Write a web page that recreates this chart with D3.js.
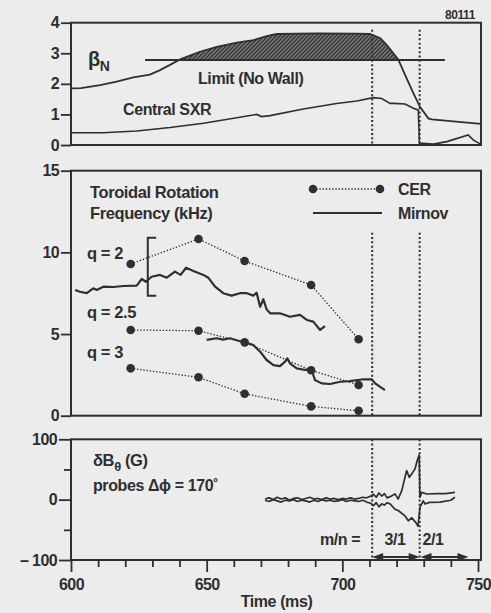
<!DOCTYPE html>
<html>
<head>
<meta charset="utf-8">
<script src="https://cdn.jsdelivr.net/npm/d3@7"></script>
<style>
  html, body { margin: 0; padding: 0; background: #ececec; }
  svg { display: block; font-family: "Liberation Sans", Arial, Helvetica, sans-serif; font-weight: 700; }
</style>
</head>
<body>
<svg id="chart" width="491" height="613"></svg>
<script>
// ---- Shot 80111: beta_N, central SXR ----
const betaNTime = [600, 603.7, 610.7, 616.8, 623, 629.1, 632.8, 636.5, 640.2, 647.5, 653.7, 661.1, 667.2, 672.1, 675.8, 690.6, 705, 710.2, 714, 716.4, 718.8, 720.6, 723.7, 726, 728.6, 731.7, 732.9, 751];
const betaN     = [1.85, 1.86, 1.96, 2.07, 2.21, 2.30, 2.45, 2.62, 2.80, 3.05, 3.21, 3.35, 3.43, 3.56, 3.63, 3.65, 3.64, 3.63, 3.49, 3.27, 3.00, 2.80, 2.18, 1.73, 1.25, 0.87, 0.84, 0.69];
const betaLimit = 2.78;
const limitSpan = [627.3, 737.8];

const sxrTime = [600, 602.1, 611.9, 624.2, 636.5, 648.8, 661.1, 668.4, 670.3, 673.4, 685.6, 697.9, 705.3, 711.4, 714.5, 717.6, 718.8, 723.1, 726.2, 728, 728.4, 733.5, 738.5, 746.4, 748.3, 751];
const sxr     = [0.40, 0.40, 0.40, 0.46, 0.57, 0.71, 0.89, 1.00, 0.93, 0.96, 1.18, 1.36, 1.44, 1.55, 1.52, 1.36, 1.36, 1.34, 1.20, 1.14, 0.06, 0.03, 0.11, 0.33, 0.16, 0.03];

// ---- Toroidal rotation (kHz) ----
const cerTime = [622, 647, 664, 688.5, 706];
const cerQ2   = [9.29, 10.82, 9.47, 8.00, 4.68];
const cerQ25  = [5.25, 5.20, 4.49, 2.78, 1.88];
const cerQ3   = [2.90, 2.35, 1.34, 0.57, 0.30];

const mirnovATime = [601.5, 603.3, 605.8, 608.2, 609.5, 611.9, 615.6, 619.3, 624.2, 626.1, 627.6, 629.7, 632.8, 635.3, 638.3, 640.4, 642.4, 645.1, 648.8, 650.6, 653.1, 656.1, 659.2, 662.3, 664.8, 667.2, 668.4, 669.7, 670.9, 672.1, 673.4, 677, 680.7, 684.4, 686.9, 689.3, 691.8, 693.6];
const mirnovA     = [7.70, 7.59, 7.50, 7.80, 7.70, 7.90, 7.88, 7.94, 7.96, 8.37, 8.20, 8.51, 8.62, 8.45, 8.82, 8.62, 9.06, 8.86, 8.62, 8.45, 7.90, 7.50, 7.35, 7.50, 7.50, 7.35, 7.53, 6.67, 7.13, 6.51, 6.27, 6.27, 6.06, 6.17, 5.86, 5.76, 5.25, 5.49];

const mirnovBTime = [650, 653.7, 656, 658.6, 661, 664.1, 667.2, 669.7, 672.1, 674.6, 677, 678.9, 679.7, 680.7, 683.2, 686.3, 688.7, 689.9, 692.4, 695.5, 699.2, 702.8, 707.7, 710.8, 712.1, 715.7];
const mirnovB     = [4.64, 4.74, 4.66, 4.74, 4.62, 4.49, 4.33, 3.92, 3.41, 3.10, 3.04, 3.31, 3.51, 3.21, 2.90, 2.80, 2.80, 2.19, 1.98, 1.94, 2.08, 2.12, 2.23, 2.23, 1.98, 1.57];

// q = 2 bracket (time, kHz)
const bracketTime = [628.3, 631.4];
const bracketSpan = [7.35, 10.9];

// ---- delta B_theta (G), two probes ----
const probeATime = [671.5, 673, 674.5, 676, 677.5, 679, 680.5, 682, 683.5, 685, 686.5, 688, 689.5, 691, 692.5, 694, 695.5, 697, 698.5, 700, 701.5, 703, 704.5, 706, 707.5, 709, 710.5, 711.5, 712.5, 713.5, 714.5, 715.5, 716.5, 717.6, 719.4, 720.6, 721.9, 723.1, 723.7, 724.7, 725.6, 726.8, 727.6, 728.3, 728.6, 729.3, 731.1, 734.8, 738, 741.5];
const probeA     = [1, 3, 0, 4, 1, 3, -1, 2, 3, 0, 2, 4, 1, 2, 0, 3, 1, 2, 0, 2, 1, 3, 1, 2, 4, 3, 6, 9, 4, 11, 6, 10, 3, 5, 9.5, 1, 15, 37, 48, 37, 43, 51, 65, 74, 4, 12, 9.4, 10, 10, 12];
const probeBTime = [671.5, 673, 674.5, 676, 677.5, 679, 680.5, 682, 683.5, 685, 686.5, 688, 689.5, 691, 692.5, 694, 695.5, 697, 698.5, 700, 701.5, 703, 704.5, 706, 707.5, 709, 710.5, 711.5, 712.5, 713.5, 714.5, 715.5, 716.5, 717.6, 719.4, 720.6, 723.1, 724.3, 725.6, 727.1, 727.9, 728.6, 729.8, 730.4, 732.2, 736, 740, 741.5];
const probeB     = [-1, -3, 0, -2, -4, -1, -2, 0, -3, -1, -2, -4, -1, -3, 0, -2, -1, -3, -2, 0, -3, -1, -2, -3, -1, -4, -6, -10, -5, -12, -7, -9, -5, -7, -16, -18, -27, -35, -30, -38, -44, -13, -2, -7, -4.5, -4, -1, 4];

// mode windows (m/n) and event times
const modeWindows = [[711, 728.5, "3/1"], [728.8, 746.5, "2/1"]];
const eventTimes = [711, 728.5];

// axis ticks
const betaTicks = [0, 1, 2, 3, 4];
const rotTicks = [0, 5, 10, 15];
const dbMajorTicks = [-100, 0, 100];
const dbMinorTicks = [-50, 50];
const timeMajorTicks = [600, 650, 700, 750];
const timeMinorTicks = [610, 620, 630, 640, 660, 670, 680, 690, 710, 720, 730, 740];

// ---- drawing ----
const ink = "#2f2f2f";
const svg = d3.select("#chart");

const x = d3.scaleLinear([600, 750], [71, 478]);
const yB = d3.scaleLinear([0, 4], [145, 22.7]);
const yR = d3.scaleLinear([0, 15], [415.7, 170.7]);
const yD = d3.scaleLinear([-100, 100], [560, 439.3]);
const xEnd = 751.1;

const defs = svg.append("defs");
const pat = defs.append("pattern").attr("id", "hatch")
  .attr("patternUnits", "userSpaceOnUse").attr("width", 4).attr("height", 4);
pat.append("rect").attr("width", 4).attr("height", 4).attr("fill", "#7a7a7a");
pat.append("path").attr("d", "M-1,1 L1,-1 M0,4 L4,0 M3,5 L5,3")
  .attr("stroke", "#343434").attr("stroke-width", 1.3);

function frame(y) {
  svg.append("rect")
    .attr("x", x(600)).attr("y", y.range()[1])
    .attr("width", x(xEnd) - x(600)).attr("height", y.range()[0] - y.range()[1])
    .attr("fill", "none").attr("stroke", ink).attr("stroke-width", 2);
}

function styleAxis(g, size) {
  g.select(".domain").remove();
  g.selectAll(".tick line").attr("stroke", ink).attr("stroke-width", 1.8);
  g.selectAll(".tick text").attr("fill", ink).attr("font-size", size)
    .attr("font-family", "'Liberation Sans', Arial, sans-serif").attr("font-weight", 700)
    .attr("letter-spacing", -0.6);
}

function eventLines(y, top) {
  eventTimes.forEach(t => {
    svg.append("line")
      .attr("x1", x(t)).attr("x2", x(t))
      .attr("y1", y(top)).attr("y2", y.range()[0])
      .attr("stroke", ink).attr("stroke-width", 2).attr("stroke-dasharray", "2,2.3");
  });
}

function text(xp, yp, str, size, anchor) {
  return svg.append("text").attr("x", xp).attr("y", yp)
    .attr("font-size", size).attr("fill", ink).attr("letter-spacing", -0.4)
    .attr("text-anchor", anchor || "start").text(str);
}

const lineGen = (xs, ys, yScale) =>
  d3.line().x((d, i) => x(xs[i])).y((d, i) => yScale(ys[i]))(ys);

// ===== Panel 1 : beta_N =====
const limitStart = betaNTime.findIndex(t => t >= 640.2);
const limitStop = betaNTime.findIndex(t => t >= 720.6);
const hatchIdx = d3.range(limitStart, limitStop + 1);
svg.append("path")
  .attr("d", d3.area()
    .x(i => x(betaNTime[i]))
    .y0(yB(betaLimit))
    .y1(i => yB(Math.max(betaN[i], betaLimit)))(hatchIdx))
  .attr("fill", "url(#hatch)");

eventLines(yB, 3.77);

svg.append("line")
  .attr("x1", x(limitSpan[0])).attr("x2", x(limitSpan[1]))
  .attr("y1", yB(betaLimit)).attr("y2", yB(betaLimit))
  .attr("stroke", ink).attr("stroke-width", 2.2);

svg.append("path").attr("d", lineGen(betaNTime, betaN, yB))
  .attr("fill", "none").attr("stroke", ink).attr("stroke-width", 1.8);
svg.append("path").attr("d", lineGen(sxrTime, sxr, yB))
  .attr("fill", "none").attr("stroke", ink).attr("stroke-width", 1.6);

frame(yB);
svg.append("g").attr("transform", `translate(${x(600)},0)`)
  .call(d3.axisLeft(yB).tickValues(betaTicks).tickSize(10).tickPadding(2).tickFormat(d3.format("d")))
  .call(g => styleAxis(g, 16));

text(475, 19, "80111", 12, "end");
const bN = text(88, 66, "β", 20);
bN.append("tspan").attr("font-size", 14).attr("dy", 5).text("N");
text(198, 84, "Limit (No Wall)", 16);
text(123, 115, "Central SXR", 16);

// ===== Panel 2 : rotation =====
eventLines(yR, 11.2);

[cerQ2, cerQ25, cerQ3].forEach(vals => {
  svg.append("path").attr("d", lineGen(cerTime, vals, yR))
    .attr("fill", "none").attr("stroke", ink).attr("stroke-width", 1.3)
    .attr("stroke-dasharray", "1.4,1.8");
  svg.append("g").selectAll("circle").data(vals).join("circle")
    .attr("cx", (d, i) => x(cerTime[i])).attr("cy", d => yR(d))
    .attr("r", 4.3).attr("fill", ink);
});

[[mirnovATime, mirnovA], [mirnovBTime, mirnovB]].forEach(([ts, vs]) => {
  svg.append("path").attr("d", lineGen(ts, vs, yR))
    .attr("fill", "none").attr("stroke", ink).attr("stroke-width", 2.2)
    .attr("stroke-linejoin", "round");
});

svg.append("path")
  .attr("d", `M${x(bracketTime[1])},${yR(bracketSpan[1])} H${x(bracketTime[0])} V${yR(bracketSpan[0])} H${x(bracketTime[1])}`)
  .attr("fill", "none").attr("stroke", ink).attr("stroke-width", 2);

frame(yR);
svg.append("g").attr("transform", `translate(${x(600)},0)`)
  .call(d3.axisLeft(yR).tickValues(rotTicks).tickSize(10).tickPadding(2))
  .call(g => styleAxis(g, 16));

text(90, 198, "Toroidal Rotation", 16.5);
text(90, 219, "Frequency (kHz)", 16.5);
text(87, 259, "q = 2", 16.5);
text(87, 318, "q = 2.5", 16.5);
text(87, 358, "q = 3", 16.5);

// legend
const lgX0 = 313, lgX1 = 380;
svg.append("line").attr("x1", lgX0).attr("x2", lgX1).attr("y1", 189).attr("y2", 189)
  .attr("stroke", ink).attr("stroke-width", 1.3).attr("stroke-dasharray", "1.4,1.8");
[lgX0, lgX1].forEach(cx => svg.append("circle").attr("cx", cx).attr("cy", 189).attr("r", 4.3).attr("fill", ink));
text(398, 195, "CER", 16);
svg.append("line").attr("x1", lgX0).attr("x2", lgX1 + 2).attr("y1", 213).attr("y2", 213)
  .attr("stroke", ink).attr("stroke-width", 2.2);
text(398, 219, "Mirnov", 16);

// ===== Panel 3 : delta B =====
eventLines(yD, 100);

[[probeATime, probeA], [probeBTime, probeB]].forEach(([ts, vs]) => {
  svg.append("path").attr("d", lineGen(ts, vs, yD))
    .attr("fill", "none").attr("stroke", ink).attr("stroke-width", 1.7)
    .attr("stroke-linejoin", "round");
});

// mode windows: double-headed arrows
const arrowY = yD(-95);
modeWindows.forEach(([t0, t1]) => {
  const a = x(t0), b = x(t1);
  svg.append("line").attr("x1", a + 4).attr("x2", b - 4).attr("y1", arrowY).attr("y2", arrowY)
    .attr("stroke", ink).attr("stroke-width", 2.2);
  svg.append("path").attr("d", `M${a},${arrowY} l11,-4 l0,8 Z`).attr("fill", ink);
  svg.append("path").attr("d", `M${b},${arrowY} l-11,-4 l0,8 Z`).attr("fill", ink);
});

frame(yD);
svg.append("g").attr("transform", `translate(${x(600)},0)`)
  .call(d3.axisLeft(yD).tickValues(dbMajorTicks).tickSize(12).tickPadding(2)
    .tickFormat(d => d < 0 ? "– " + Math.abs(d) : d))
  .call(g => styleAxis(g, 16));
svg.append("g").attr("transform", `translate(${x(600)},0)`)
  .call(d3.axisLeft(yD).tickValues(dbMinorTicks).tickSize(7).tickFormat(""))
  .call(g => styleAxis(g, 16));

svg.append("g").attr("transform", `translate(0,${yD(-100)})`)
  .call(d3.axisBottom(x).tickValues(timeMajorTicks).tickSize(12).tickPadding(7))
  .call(g => styleAxis(g, 16));
svg.append("g").attr("transform", `translate(0,${yD(-100)})`)
  .call(d3.axisBottom(x).tickValues(timeMinorTicks).tickSize(7).tickFormat(""))
  .call(g => styleAxis(g, 16));

const dB = text(93, 466, "δB", 16.5);
dB.append("tspan").attr("font-size", 13).attr("dy", 5).text("θ");
dB.append("tspan").attr("dy", -5).text(" (G)");
text(93, 491, "probes Δϕ = 170˚", 16);
text(320, 545, "m/n =", 16);
modeWindows.forEach(([t0, t1, lab], i) => {
  text(i === 0 ? 395 : 433, 545, lab, 16, "middle");
});

text(x(675) + 2, 607, "Time (ms)", 16, "middle");
</script>
</body>
</html>
